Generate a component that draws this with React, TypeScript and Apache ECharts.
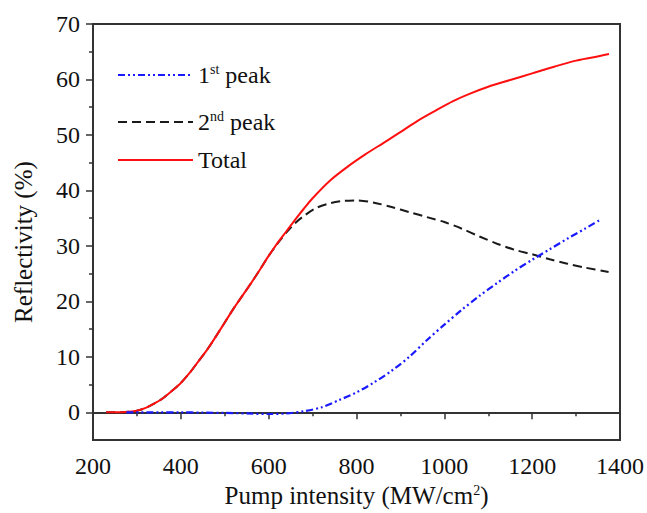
import React, { useEffect, useRef } from "react";
import * as echarts from "echarts";

const totalX = [230, 260, 280, 300, 320, 340, 360, 380, 400, 420, 440, 460, 480, 500, 520, 540, 560, 580, 600, 620, 640, 660, 680, 700, 740, 780, 820, 860, 900, 940, 980, 1020, 1060, 1100, 1150, 1200, 1250, 1300, 1340, 1375];
const totalY = [0, 0, 0.1, 0.3, 0.8, 1.6, 2.6, 3.9, 5.3, 7.1, 9.2, 11.3, 13.7, 16.2, 18.7, 21, 23.3, 25.7, 28.2, 30.5, 32.6, 34.7, 36.7, 38.6, 41.8, 44.3, 46.5, 48.5, 50.5, 52.6, 54.4, 56.1, 57.5, 58.7, 59.9, 61.1, 62.3, 63.4, 64, 64.6];

const secondX = [230, 260, 280, 300, 320, 340, 360, 380, 400, 420, 440, 460, 480, 500, 520, 540, 560, 580, 600, 620, 640, 660, 680, 710, 740, 770, 800, 840, 880, 920, 960, 1000, 1040, 1080, 1120, 1160, 1200, 1240, 1280, 1320, 1374];
const secondY = [0, 0, 0.1, 0.3, 0.8, 1.6, 2.6, 3.9, 5.3, 7.1, 9.2, 11.3, 13.7, 16.2, 18.7, 21, 23.3, 25.7, 28.2, 30.4, 32.4, 34.1, 35.4, 36.9, 37.7, 38.1, 38.2, 37.8, 37, 36.1, 35.2, 34.3, 33.1, 31.7, 30.4, 29.3, 28.5, 27.6, 26.8, 26.1, 25.3];

const firstX = [276, 350, 400, 450, 500, 550, 600, 640, 680, 720, 760, 800, 840, 880, 920, 960, 1000, 1040, 1080, 1120, 1160, 1200, 1240, 1280, 1320, 1357];
const firstY = [0, 0, 0, -0.05, -0.1, -0.2, -0.3, -0.2, 0.2, 0.9, 2.2, 3.6, 5.4, 7.5, 10, 13, 15.8, 18.5, 21, 23.3, 25.5, 27.5, 29.4, 31.3, 33.1, 34.8];

const xTicks = [200, 400, 600, 800, 1000, 1200, 1400];
const yMajorTicks = [0, 10, 20, 30, 40, 50, 60, 70];
const yMinorTicks = [5, 15, 25, 35, 45, 55, 65];

const seriesNames = ["1st peak", "2nd peak", "Total"];
const legendLabels: Record<string, string> = {
  "1st peak": "1{sup|st} peak",
  "2nd peak": "2{sup|nd} peak",
  Total: "Total",
};

const FONT = "Liberation Serif";

const pairs = (xs: number[], ys: number[]) => xs.map((x, i) => [x, ys[i]]);

export default function App() {
  const ref = useRef<HTMLDivElement>(null);
  useEffect(() => {
    if (!ref.current) return;
    const chart = echarts.init(ref.current, undefined, { renderer: "svg" });
    const richSup = {
      sup: { fontSize: 14, fontFamily: FONT, verticalAlign: "top", color: "#111" },
    };
    const legendTops = [62, 109, 147];
    const option: any = {
      animation: false,
      backgroundColor: "#ffffff",
      textStyle: { fontFamily: FONT },
      grid: {
        left: 93,
        right: 25,
        top: 24,
        bottom: 72,
        show: true,
        borderColor: "#333",
        borderWidth: 2,
        backgroundColor: "transparent",
      },
      legend: seriesNames.map((n, i) => ({
        data: [n],
        left: 117,
        top: legendTops[i],
        padding: 0,
        itemWidth: 75,
        itemHeight: 14,
        orient: "vertical",
        selectedMode: false,
        itemStyle: { opacity: 0, borderWidth: 0 },
        formatter: (name: string) => legendLabels[name],
        textStyle: {
          fontFamily: FONT,
          fontSize: 24,
          color: "#111",
          lineHeight: 26,
          rich: richSup,
        },
      })),
      xAxis: {
        type: "value",
        min: 200,
        max: 1400,
        interval: 200,
        name: "Pump intensity (MW/cm{sup|2})",
        nameLocation: "middle",
        nameGap: 38,
        nameTextStyle: { fontFamily: FONT, fontSize: 25, color: "#111", rich: richSup },
        axisLine: { show: true, lineStyle: { color: "#333", width: 2 } },
        axisTick: { show: true, length: 7, lineStyle: { color: "#333", width: 1.5 }, customValues: xTicks },
        minorTick: { show: true, splitNumber: 2, length: 4, lineStyle: { color: "#333", width: 1.5 } },
        axisLabel: {
          fontFamily: FONT,
          fontSize: 24,
          color: "#111",
          margin: 14,
          customValues: xTicks,
          formatter: (v: number) => String(v),
        },
        splitLine: { show: false },
      },
      yAxis: [
        {
          type: "value",
          min: -5,
          max: 70,
          name: "Reflectivity (%)",
          nameLocation: "middle",
          nameGap: 57,
          nameTextStyle: { fontFamily: FONT, fontSize: 25, color: "#111", padding: [0, 20, 0, 0] },
          axisLine: { show: true, lineStyle: { color: "#333", width: 2 } },
          axisTick: { show: true, length: 7, lineStyle: { color: "#333", width: 1.5 }, customValues: yMajorTicks },
          axisLabel: {
            fontFamily: FONT,
            fontSize: 24,
            color: "#111",
            margin: 13,
            customValues: yMajorTicks,
            formatter: (v: number) => String(v),
          },
          splitLine: { show: false },
        },
        {
          type: "value",
          min: -5,
          max: 70,
          position: "left",
          offset: 0,
          axisLine: { show: false },
          axisTick: { show: true, length: 4, lineStyle: { color: "#333", width: 1.5 }, customValues: yMinorTicks },
          axisLabel: { show: false, customValues: yMinorTicks },
          splitLine: { show: false },
        },
      ],
      series: [
        {
          name: "2nd peak",
          type: "line",
          data: pairs(secondX, secondY),
          showSymbol: false,
          symbol: "none",
          smooth: 0.3,
          z: 2,
          lineStyle: { color: "#1a1a1a", width: 2, type: [9, 5] },
          itemStyle: { color: "#1a1a1a" },
        },
        {
          name: "Total",
          type: "line",
          data: pairs(totalX, totalY),
          showSymbol: false,
          symbol: "none",
          smooth: 0.3,
          z: 3,
          lineStyle: { color: "#ff1010", width: 2, type: "solid" },
          itemStyle: { color: "#ff1010" },
        },
        {
          name: "1st peak",
          type: "line",
          data: pairs(firstX, firstY),
          showSymbol: false,
          symbol: "none",
          smooth: 0.3,
          z: 4,
          lineStyle: { color: "#1a1aff", width: 2.2, type: [7, 3, 2, 3, 2, 3] },
          itemStyle: { color: "#1a1aff" },
        },
      ],
    };
    chart.setOption(option);
    return () => chart.dispose();
  }, []);
  return (
    <div
      ref={ref}
      style={{ position: "fixed", left: 0, top: 0, width: 647, height: 513, background: "#fff" }}
    />
  );
}
